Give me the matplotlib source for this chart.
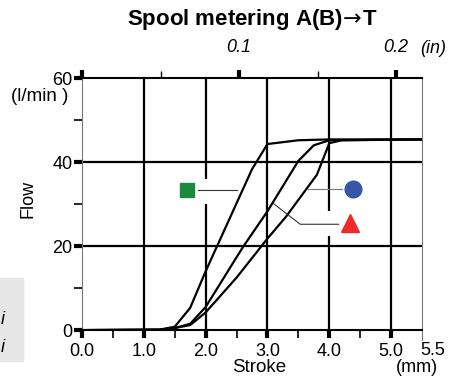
import matplotlib.pyplot as plt
from matplotlib.patches import Rectangle

plt.rcParams['font.family'] = ['Liberation Sans', 'DejaVu Sans']

# flow curves (stroke in mm, flow in l/min)
stroke_sq = [0, 1.25, 1.5, 1.75, 2.0, 2.75, 3.0, 3.5, 4.0, 5.5]
flow_sq = [0, 0.1, 0.8, 5.3, 14.0, 38.3, 44.3, 45.2, 45.4, 45.4]
stroke_ci = [0, 1.25, 1.5, 1.75, 2.0, 2.6, 3.0, 3.5, 3.75, 4.0, 5.5]
flow_ci = [0, 0.1, 0.5, 1.5, 5.5, 19.7, 28.3, 40.3, 44.0, 45.2, 45.4]
stroke_tr = [0, 1.25, 1.5, 1.75, 2.0, 2.5, 3.0, 3.3, 3.8, 4.0, 4.2, 5.5]
flow_tr = [0, 0.1, 0.5, 1.2, 4.2, 12.5, 21.8, 27.0, 37.0, 44.5, 45.2, 45.4]

x_ticks = [0, 1, 2, 3, 4, 5]
x_labels = ['0.0', '1.0', '2.0', '3.0', '4.0', '5.0']
y_ticks = [0, 20, 40, 60]
in_ticks = [0, 0.1, 0.2]
in_labels = ['', '0.1', '0.2']

fig = plt.figure(figsize=(4.53, 3.87), dpi=100)
ax = fig.add_axes([0.181, 0.147, 0.7506, 0.6512])
ax.set_xlim(0, 5.5)
ax.set_ylim(0, 60)

# grid
ax.vlines([1, 2, 3, 4, 5], 0, 60, color='black', lw=1.6, zorder=2)
ax.hlines([20, 40], 0, 5.5, color='black', lw=1.6, zorder=2)
# gaps behind the labels
ax.add_patch(Rectangle((1.92, 30.1), 0.16, 5.9, color='white', zorder=2.5, lw=0))
ax.add_patch(Rectangle((3.92, 22.4), 0.16, 5.9, color='white', zorder=2.5, lw=0))

for xs, ys in [(stroke_sq, flow_sq), (stroke_ci, flow_ci), (stroke_tr, flow_tr)]:
    ax.plot(xs, ys, color='black', lw=1.6, zorder=3, solid_joinstyle='miter')

# label leaders and markers
ax.plot([1.87, 2.5], [33.3, 33.3], color='#333333', lw=0.8, zorder=3)
ax.plot([1.70], [33.3], marker='s', ms=10.5, color='#1b8a3e', ls='none', zorder=4)
ax.plot([3.65, 4.2], [33.6, 33.6], color='#777777', lw=0.8, zorder=3)
ax.plot([4.39], [33.6], marker='o', ms=12, color='#3656a8', ls='none', zorder=4)
ax.plot([3.1, 3.53, 4.15], [30.1, 25.2, 25.2], color='#333333', lw=0.8, zorder=3)
ax.plot([4.33], [25.5], marker='^', ms=13, color='#ee2a2a', ls='none', zorder=4)

# spines
ax.spines['top'].set_linewidth(1.5)
ax.spines['bottom'].set_linewidth(1.5)
ax.spines['left'].set_color('#777777')
ax.spines['left'].set_linewidth(0.8)
ax.spines['right'].set_visible(False)
ax.plot([5.5, 5.5], [-2.3, 60], color='#777777', lw=0.8, clip_on=False)

ax.set_xticks(x_ticks)
ax.set_xticklabels(x_labels)
ax.set_xticks([0.5, 1.5, 2.5, 3.5, 4.5], minor=True)
ax.set_yticks(y_ticks)
ax.set_yticks([10, 30, 50], minor=True)
ax.tick_params(axis='both', which='major', labelsize=13, length=6, width=3, direction='out', pad=3)
ax.tick_params(axis='both', which='minor', length=6, width=1.2, direction='out')
ax.tick_params(axis='y', which='both', pad=1)
ax.text(5.68, -4.9, '5.5', fontsize=13, ha='center', va='center')

sec = ax.secondary_xaxis('top', functions=(lambda v: v / 25.4, lambda v: v * 25.4))
sec.set_xticks(in_ticks)
sec.set_xticklabels(in_labels, fontstyle='italic')
sec.set_xticks([0.05, 0.15], minor=True)
sec.tick_params(which='major', labelsize=13, length=6, width=3, pad=10)
sec.tick_params(which='minor', length=5, width=1.0)
sec.spines['top'].set_visible(False)
ax.text(5.68, 67.0, '(in)', fontsize=13, fontstyle='italic', ha='center', va='center')

fig.text(252 / 453, 1 - 20 / 387, r'Spool metering A(B)$\!\rightarrow\!$T', fontsize=16,
         fontweight='bold', ha='center', va='center')
ax.text(-0.87, 31.2, 'Flow', fontsize=13, rotation=90, ha='center', va='center')
ax.text(-0.68, 55.5, '(l/min )', fontsize=13.5, ha='center', va='center')
ax.text(2.86, -9.0, 'Stroke', fontsize=13.5, ha='center', va='center')
ax.text(5.41, -9.0, '(mm)', fontsize=13, ha='center', va='center')

# grey box on the left edge
fig.patches.append(Rectangle((0, 26 / 387), 23 / 453, 83 / 387, transform=fig.transFigure,
                             color='#e6e6e6', zorder=0))
fig.text(3 / 453, 1 - 320 / 387, 'i', fontsize=13, fontstyle='italic', ha='center', va='center')
fig.text(3 / 453, 1 - 347 / 387, 'i', fontsize=13, fontstyle='italic', ha='center', va='center')

fig.savefig('out.png', dpi=100)
